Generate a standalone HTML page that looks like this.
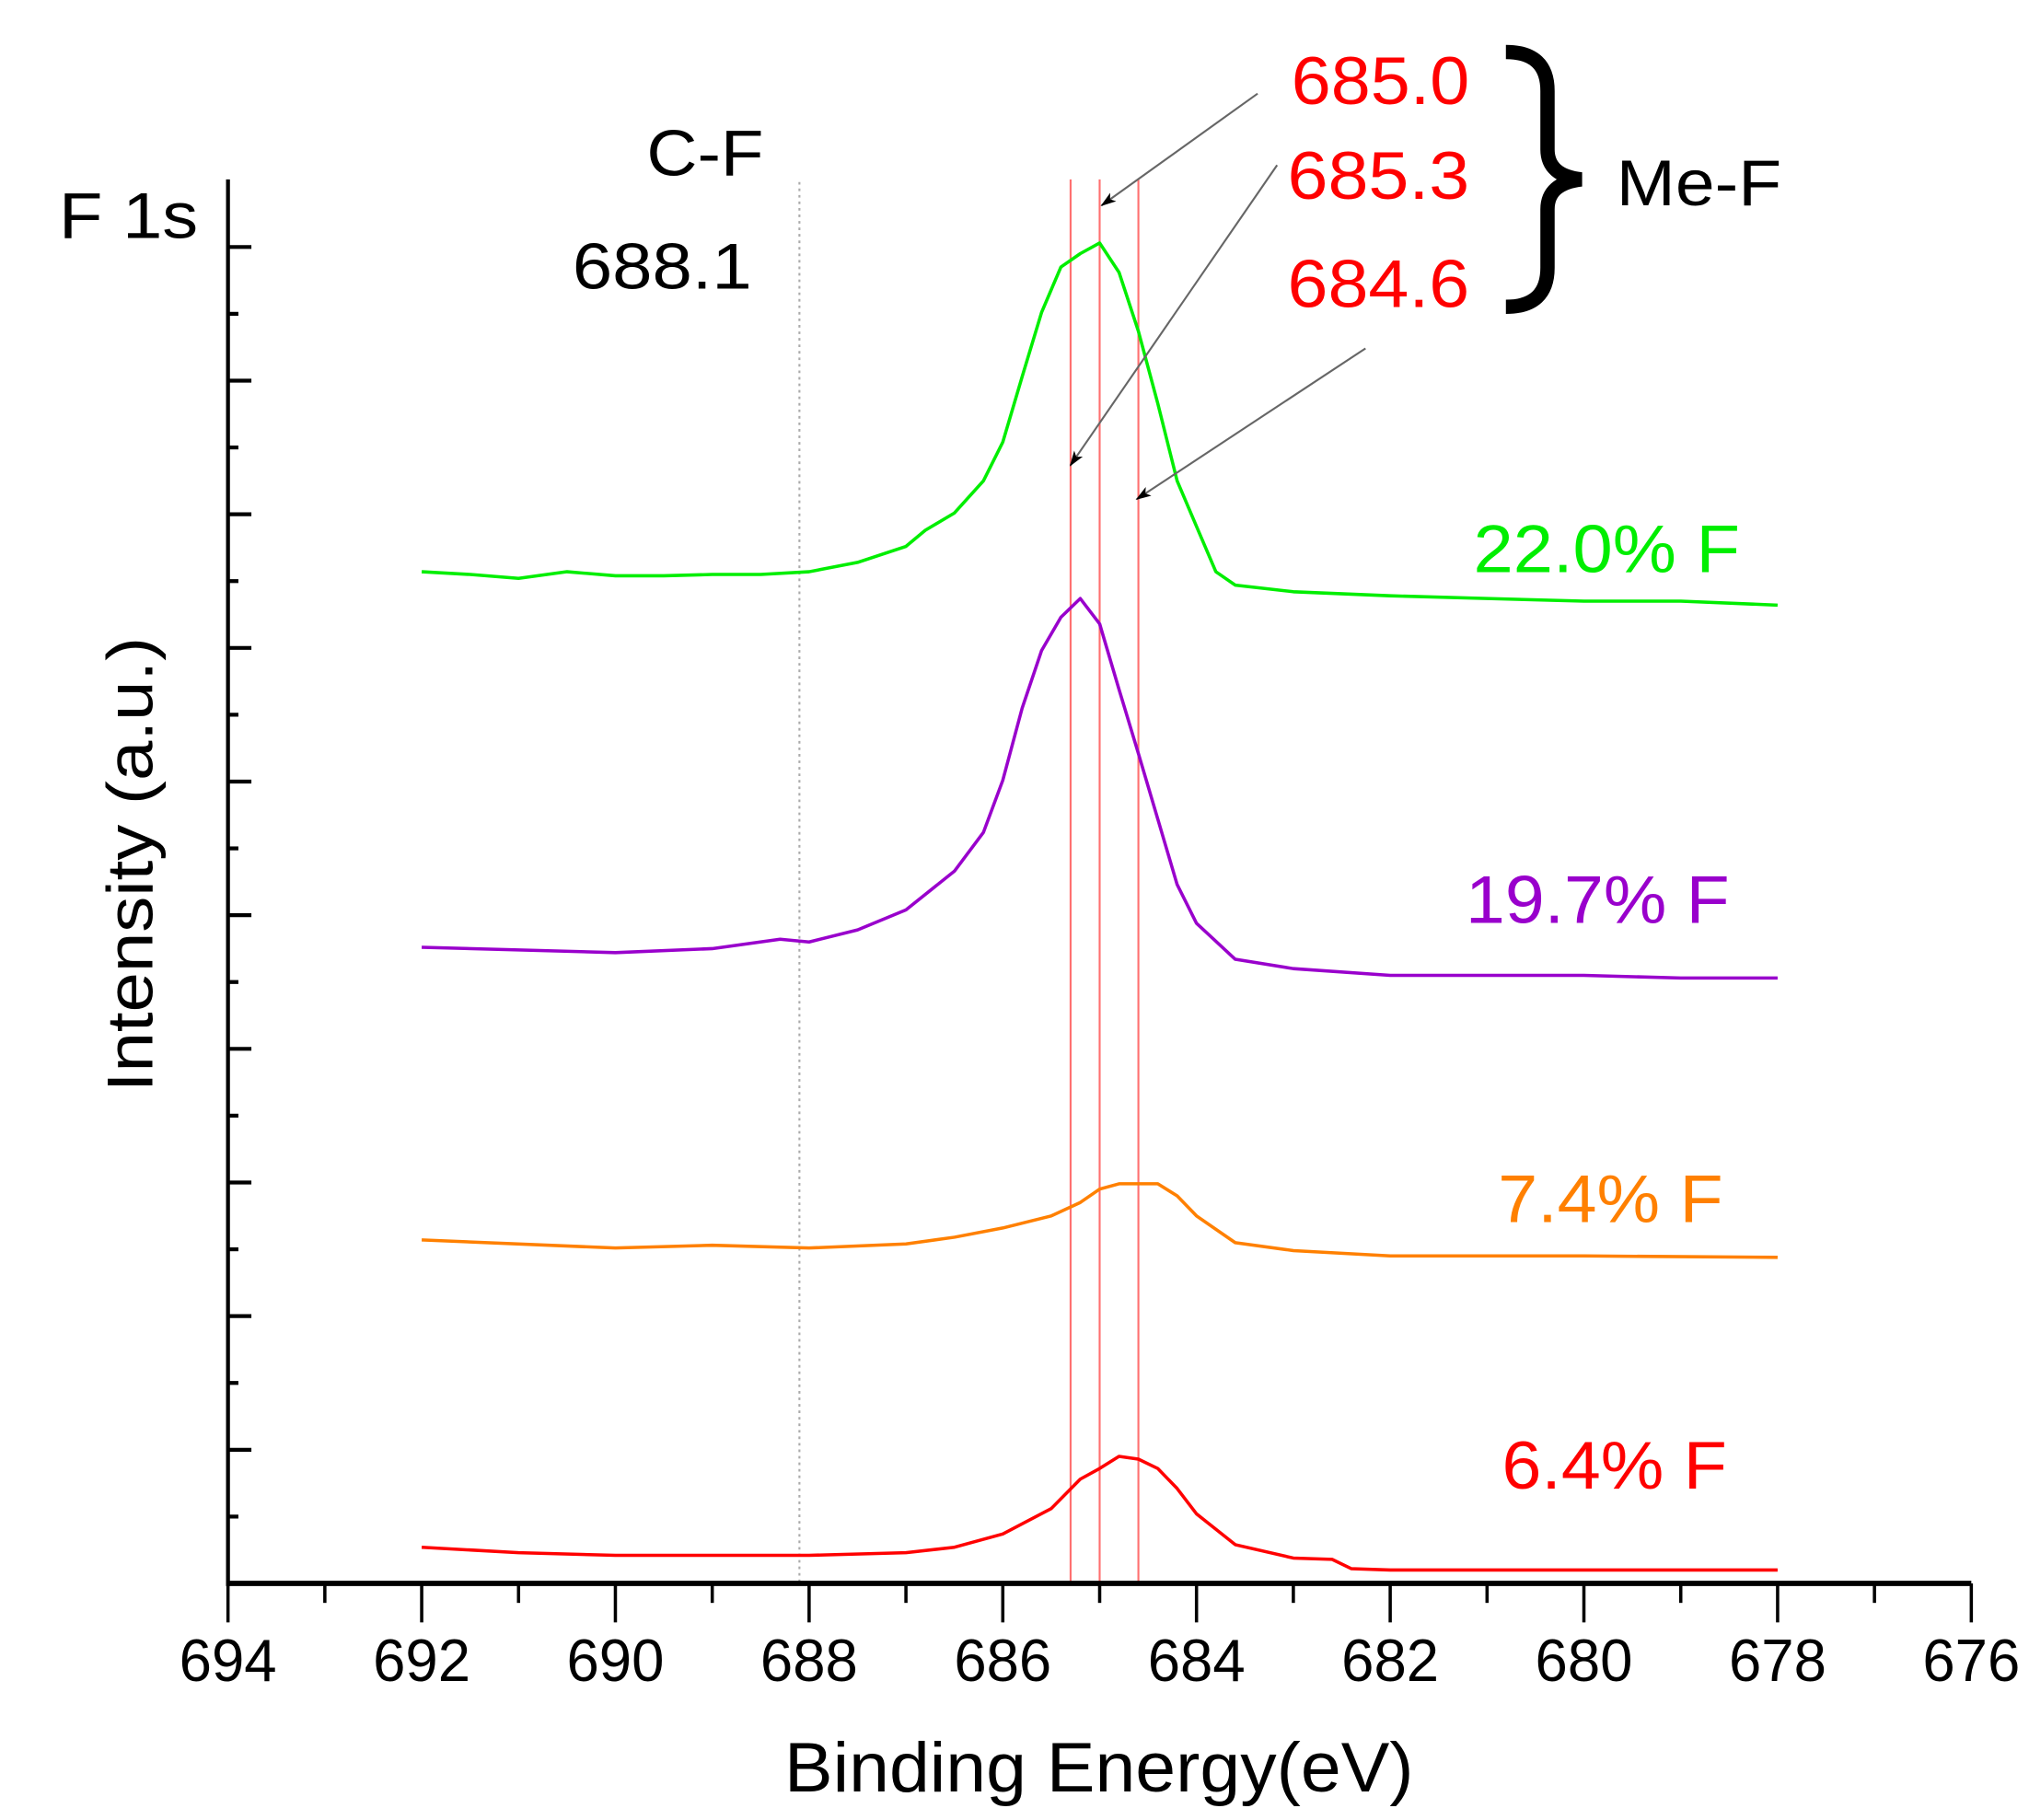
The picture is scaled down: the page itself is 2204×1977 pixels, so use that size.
<!DOCTYPE html>
<html><head><meta charset="utf-8"><style>
html,body{margin:0;padding:0;background:#fff;}
svg{display:block;font-family:"Liberation Sans",Arial,sans-serif;}
</style></head><body>
<svg id="chart" width="2204" height="1977" viewBox="0 0 1560 1400" xmlns="http://www.w3.org/2000/svg">
<rect width="1560" height="1400" fill="#fff"/>
<g id="refs"></g>
<g id="series"></g>
<g id="axes"></g>
<text x="45" y="183" font-size="50" textLength="107" lengthAdjust="spacingAndGlyphs">F 1s</text>
<text x="497" y="135" font-size="50" textLength="90" lengthAdjust="spacingAndGlyphs">C-F</text>
<text x="440" y="222" font-size="50" textLength="138" lengthAdjust="spacingAndGlyphs">688.1</text>
<text x="993" y="80" font-size="52" fill="#ff0000" textLength="137" lengthAdjust="spacingAndGlyphs">685.0</text>
<text x="990" y="153" font-size="52" fill="#ff0000" textLength="140" lengthAdjust="spacingAndGlyphs">685.3</text>
<text x="990" y="236" font-size="52" fill="#ff0000" textLength="140" lengthAdjust="spacingAndGlyphs">684.6</text>
<path d="M1158,40 Q1190,40 1190,70 L1190,115 Q1190,135 1216,138 Q1190,141 1190,161 L1190,206 Q1190,236 1158,236" fill="none" stroke="#000" stroke-width="11"/>
<text x="1243" y="158" font-size="50" textLength="127" lengthAdjust="spacingAndGlyphs">Me-F</text>
<text transform="translate(117,665) rotate(-90)" font-size="50" text-anchor="middle" textLength="350" lengthAdjust="spacingAndGlyphs">Intensity (a.u.)</text>
<text x="603" y="1378" font-size="54" textLength="484" lengthAdjust="spacingAndGlyphs">Binding Energy(eV)</text>
<text x="1133" y="440" font-size="52" fill="#00ee00" textLength="205" lengthAdjust="spacingAndGlyphs">22.0% F</text>
<text x="1127" y="710" font-size="52" fill="#9900cc" textLength="203" lengthAdjust="spacingAndGlyphs">19.7% F</text>
<text x="1152" y="940" font-size="52" fill="#ff8000" textLength="173" lengthAdjust="spacingAndGlyphs">7.4% F</text>
<text x="1155" y="1145" font-size="52" fill="#ff0000" textLength="173" lengthAdjust="spacingAndGlyphs">6.4% F</text>
<defs><marker id="ah" markerWidth="12" markerHeight="8" refX="11" refY="4" orient="auto" markerUnits="userSpaceOnUse"><path d="M0,0 L12,4 L0,8 L3,4 Z" fill="#000"/></marker></defs>
<line x1="967" y1="72" x2="847" y2="158" stroke="#666" stroke-width="1.5" marker-end="url(#ah)"/>
<line x1="982" y1="127" x2="823" y2="358" stroke="#666" stroke-width="1.5" marker-end="url(#ah)"/>
<line x1="1050" y1="268" x2="874" y2="384" stroke="#666" stroke-width="1.5" marker-end="url(#ah)"/>
</svg>
<script>
const xTicks = [694,692,690,688,686,684,682,680,678,676];
const refCF = [688.1];
const refMeF = [685.3,685.0,684.6];
const greenE = [692,691.5,691,690.5,690,689.5,689,688.5,688,687.5,687,686.8,686.5,686.2,686,685.8,685.6,685.4,685.2,685.0,684.8,684.6,684.4,684.2,684,683.8,683.6,683,682,681,680,679,678];
const greenV = [75.7,75.5,75.2,75.7,75.4,75.4,75.5,75.5,75.7,76.4,77.6,78.8,80.1,82.5,85.4,90.3,95.1,98.5,99.5,100.3,98.1,93.7,88.3,82.5,79.1,75.7,74.7,74.2,73.9,73.7,73.5,73.5,73.2];
const purpleE = [692,691,690,689,688.3,688,687.5,687,686.5,686.2,686,685.8,685.6,685.4,685.2,685.0,684.8,684.6,684.4,684.2,684,683.6,683,682,680,679,678];
const purpleV = [47.6,47.4,47.2,47.5,48.2,48.0,48.9,50.4,53.3,56.2,60.1,65.5,69.8,72.3,73.7,71.8,66.9,62.1,57.2,52.3,49.4,46.7,46.0,45.5,45.5,45.3,45.3];
const orangeE = [692,690,689,688,687,686.5,686,685.5,685.2,685,684.8,684.4,684.2,684,683.6,683,682,680,678];
const orangeV = [25.7,25.1,25.3,25.1,25.4,25.9,26.6,27.5,28.5,29.5,29.9,29.9,29.0,27.5,25.5,24.9,24.5,24.5,24.4];
const redE = [692,691.5,691,690,689,688,687,686.5,686,685.5,685.2,685,684.8,684.6,684.4,684.2,684,683.6,683,682.6,682.4,682,680,678];
const redV = [2.7,2.5,2.3,2.1,2.1,2.1,2.3,2.7,3.7,5.6,7.8,8.6,9.5,9.3,8.6,7.1,5.2,2.9,1.9,1.8,1.1,1.0,1.0,1.0];

const NS='http://www.w3.org/2000/svg';
const X0=175,X1=1516,Y0=1218;
function xs(e){return X0+(694-e)/(694-676)*(X1-X0);}
function ys(v){return Y0-v*10.28;}
function mk(tag,attrs,parent){const el=document.createElementNS(NS,tag);for(const k in attrs)el.setAttribute(k,attrs[k]);parent.appendChild(el);return el;}
const refs=document.getElementById('refs'),ser=document.getElementById('series'),axes=document.getElementById('axes');

refCF.forEach(e=>{const l=mk('line',{x1:xs(e),x2:xs(e),y1:140,y2:Y0,stroke:'#aaa','stroke-width':1.5,'stroke-dasharray':'2,3'},refs);

});
refMeF.forEach(e=>{const l=mk('line',{x1:xs(e),x2:xs(e),y1:138,y2:Y0,stroke:'#ff7070','stroke-width':1.5},refs);

});

function series(E,V,color,name){
  const pts=E.map((e,i)=>xs(e).toFixed(1)+','+ys(V[i]).toFixed(1)).join(' ');
  const p=mk('polyline',{points:pts,fill:'none',stroke:color,'stroke-width':2.5,'stroke-linejoin':'round'},ser);
  
  
}
series(greenE,greenV,'#00ee00','series-22-0');
series(purpleE,purpleV,'#9900cc','series-19-7');
series(orangeE,orangeV,'#ff8000','series-7-4');
series(redE,redV,'#ff0000','series-6-4');

const xa=mk('line',{x1:X0,x2:X1,y1:Y0,y2:Y0,stroke:'#000','stroke-width':4},axes);


const ya=mk('line',{x1:X0,x2:X0,y1:138,y2:Y0+2,stroke:'#000','stroke-width':3},axes);


xTicks.forEach((t,i)=>{
  mk('line',{x1:xs(t),x2:xs(t),y1:Y0,y2:Y0+30,stroke:'#000','stroke-width':2.5},axes);
  if(i<xTicks.length-1){const m=t-1;mk('line',{x1:xs(m),x2:xs(m),y1:Y0,y2:Y0+15,stroke:'#000','stroke-width':2.5},axes);}
  const tx=mk('text',{x:xs(t),y:1293,'font-size':46,'text-anchor':'middle',textLength:75,lengthAdjust:'spacingAndGlyphs'},axes);
  tx.textContent=t;
  
  
});
for(let v=5;v<=100;v+=5){
  const major=(v%10)===0;
  mk('line',{x1:X0,x2:X0+(major?18:8),y1:ys(v),y2:ys(v),stroke:'#000','stroke-width':3},axes);
}
</script>
</body></html>
